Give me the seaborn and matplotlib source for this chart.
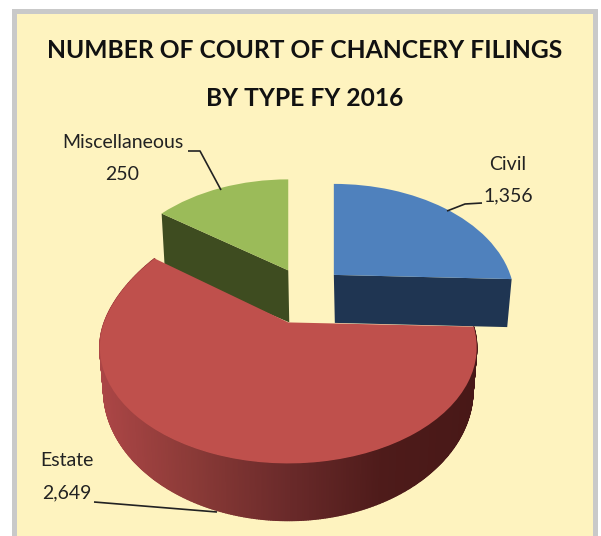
import numpy as np
import matplotlib
matplotlib.use("Agg")
import matplotlib.pyplot as plt
import seaborn as sns
from matplotlib.patches import Rectangle, Polygon
from matplotlib.transforms import Transform

# ---- data -------------------------------------------------------------
categories = ["Civil", "Estate", "Miscellaneous"]
filings = [1356, 2649, 250]
# the slices as drawn in the picture do not follow the printed counts
drawn_share = [25.6, 59.2, 15.2]
explode = [0.21, 0.30, 0.21]
title_lines = ["NUMBER OF COURT OF CHANCERY FILINGS", "BY TYPE FY 2016"]

top_colors = ["#4F81BD", "#BF504C", "#9BBB59"]
side_colors = ["#1F3552", None, "#3E4C20"]
estate_ramp = ["#AC4646", "#8A3A37", "#6A2A2A", "#4E1B1A", "#481817"]
paper = "#FEF3BF"
frame = "#C9C9C9"

sns.set_theme(style="white")
plt.rcParams["font.family"] = ["Lato", "DejaVu Sans"]

fig = plt.figure(figsize=(6.01, 5.36), dpi=100, facecolor="white")
ax = fig.add_axes([0, 0, 1, 1])

# projection of the unit pie onto the page
CX, CY, A, B, K, BACK = 306.0, 291.0, 184.0, 110.6, 0.2155, 0.28


def project(u, v, cu, cv):
    dv = v - cv
    w = 1 + K * dv
    a_local = A * (1 - BACK * max(cv, 0))
    # the front slice keeps its full height towards the back
    w_y = np.where((dv > 0) & (cv < 0), 1.0, w)
    return CX + A * cu + a_local * (u - cu) / w, CY - B * cv - B * dv / w_y


class Perspective(Transform):
    input_dims = output_dims = 2
    is_separable = False
    has_inverse = False

    def __init__(self, center):
        super().__init__()
        self.center = center

    def transform_non_affine(self, values):
        values = np.asarray(values, float)
        x, y = project(values[:, 0], values[:, 1], *self.center)
        return np.column_stack([x, y])


wedges, _ = ax.pie(drawn_share, explode=explode, colors=top_colors, startangle=90,
                   counterclock=False, radius=1, wedgeprops={"linewidth": 0})

ax.set_aspect("auto")
ax.set_xlim(0, 601)
ax.set_ylim(536, 0)
ax.set_axis_off()

ax.add_patch(Rectangle((12, 9), 586, 540, fc=frame, ec="none", zorder=0))
ax.add_patch(Rectangle((17, 14), 576, 540, fc=paper, ec="none", zorder=0.5))

civil, estate, misc = wedges
for w, z in ((misc, 3), (civil, 3), (estate, 6)):
    w.set_transform(Perspective(w.center) + ax.transData)
    w.set_zorder(z)
    w.set_clip_on(False)


def radial_side(wedge, theta, depth, rim_depth, color, z):
    cu, cv = wedge.center
    t = np.radians(theta)
    x0, y0 = project(cu, cv, cu, cv)
    x1, y1 = project(cu + np.cos(t), cv + np.sin(t), cu, cv)
    xb = x0 + (x1 - x0) * 0.975
    ax.add_patch(Polygon([(x0, y0), (x1, y1), (xb, y1 + rim_depth), (x0 + 1, y0 + depth)],
                         closed=True, fc=color, ec="none", zorder=z))


radial_side(civil, civil.theta1, 48, 48, side_colors[0], 2)
radial_side(misc, misc.theta2, 52, 56, side_colors[2], 2)

# estate outer wall, shaded left (light) to right (dark)
cu, cv = estate.center
angles = np.radians(np.linspace(estate.theta1, estate.theta2, 500))
px, py = project(cu + np.cos(angles), cv + np.sin(angles), cu, cv)
x0, _y0 = project(cu, cv, cu, cv)
rel_v = np.sin(angles)
wall = 40 / (1 + 0.3 * rel_v)
bx, by = x0 + (px - x0) * 0.98, py + wall
ramp = sns.blend_palette(estate_ramp, 256)
xmin, xmax = px.min(), px.max()
for i in range(len(angles) - 1):
    c = ramp[int(255 * np.clip((0.5 * (px[i] + px[i + 1]) - xmin) / (xmax - xmin), 0, 1))]
    ax.add_patch(Polygon([(px[i], py[i]), (px[i + 1], py[i + 1]), (bx[i + 1], by[i + 1]), (bx[i], by[i])],
                         closed=True, fc=c, ec=c, lw=1.0, zorder=5))

# text
title_kw = dict(ha="center", va="center", fontweight="bold", fontsize=17.7, color="#111111", zorder=8)
ax.text(305, 50, title_lines[0], **title_kw)
ax.text(305, 98, title_lines[1], **title_kw)

label_kw = dict(ha="center", va="center", fontsize=14, color="#222222", zorder=8)
ax.text(123, 143, categories[2], **label_kw)
ax.text(122, 175, f"{filings[2]:,}", **label_kw)
ax.text(508, 164, categories[0], **label_kw)
ax.text(508, 196, f"{filings[0]:,}", **label_kw)
ax.text(67, 461, categories[1], **label_kw)
ax.text(67, 493, f"{filings[1]:,}", **label_kw)

line_kw = dict(color="#222222", lw=1.2, zorder=8, solid_capstyle="butt")
ax.plot([188, 200, 221], [151, 151, 190], **line_kw)
ax.plot([447, 465, 482], [211, 204, 203], **line_kw)
ax.plot([94, 217], [502, 512], **line_kw)

fig.savefig("out.png", dpi=100, facecolor="white")
